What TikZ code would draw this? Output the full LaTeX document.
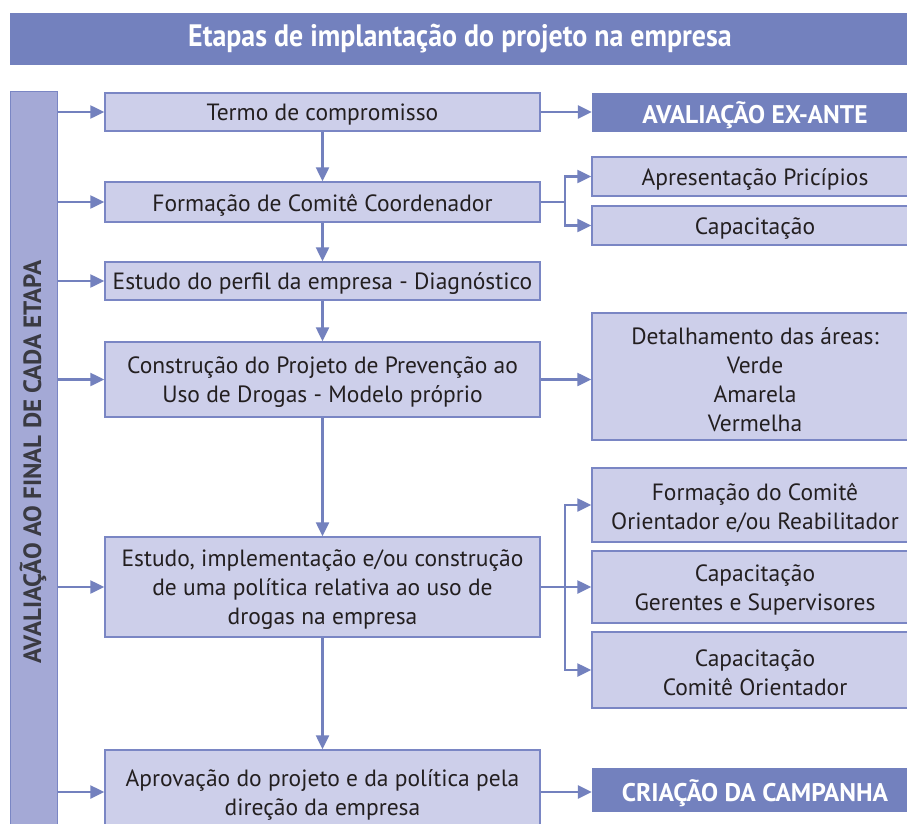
\documentclass[tikz,border=0pt]{standalone}
\usepackage{fontspec}
\setmainfont{PT Sans}
\newfontfamily\condfont{PT Sans Bold}[FakeStretch=0.9]
\usetikzlibrary{arrows.meta,positioning,calc}
\definecolor{darkbar}{RGB}{115,129,190}
\definecolor{sidebar}{RGB}{164,169,214}
\definecolor{boxfill}{RGB}{205,207,234}
\definecolor{boxline}{RGB}{122,134,196}
\definecolor{txt}{RGB}{35,31,32}
\definecolor{sidetxt}{RGB}{58,58,66}
\tikzset{
  stepbox/.style={draw=boxline, line width=1.5pt, fill=boxfill, inner sep=0pt},
  steptext/.style={inner sep=0pt, align=center, text=txt, font=\fontsize{23.5}{29}\selectfont},
  darkbox/.style={fill=darkbar, inner sep=0pt},
  darktext/.style={inner sep=0pt, align=center, text=white, font=\fontsize{25.5}{29}\bfseries\selectfont},
  arr/.style={draw=darkbar, line width=2.5pt, -{Triangle[length=14pt,width=13pt]}},
}
\newcommand{\boxat}[7]{% name, x1, y1, x2, y2, box style, text style ; then text
  \node[#6, minimum width={#4-#2}, minimum height={#5-#3}] (#1) at ({(#2+#4)/2},{(#3+#5)/2}) {};
  \node[#7, yshift=-3pt] (#1t) at (#1.center)}
\begin{document}
\begin{tikzpicture}[x=1pt,y=-1pt]
\useasboundingbox (0,0) rectangle (907,824);
\fill[white] (0,0) rectangle (907,824);
% title
\node[fill=darkbar, minimum width=900, minimum height=52, inner sep=0pt, text=white,
  font=\fontsize{31}{34}\condfont] (title) at (460,39) {Etapas de implantação do projeto na empresa};
% side bar
\node[fill=sidebar, draw=boxline, line width=1pt, minimum width=47, minimum height=740, inner sep=0pt] (side) at (33.5,462) {};
\node[rotate=90, text=sidetxt, font=\fontsize{25}{29}\bfseries\selectfont] (sidetext) at (33,462) {AVALIAÇÃO AO FINAL DE CADA ETAPA};
% main boxes
\boxat{b1}{105}{93}{540}{131}{stepbox}{steptext} {Termo de compromisso};
\boxat{b2}{105}{182}{540}{222}{stepbox}{steptext} {Formação de Comitê Coordenador};
\boxat{b3}{105}{262}{540}{300}{stepbox}{steptext} {Estudo do perfil da empresa - Diagnóstico};
\boxat{b4}{105}{342}{540}{417}{stepbox}{steptext} {Construção do Projeto de Prevenção ao\\Uso de Drogas - Modelo próprio};
\boxat{b5}{105}{537}{540}{637}{stepbox}{steptext} {Estudo, implementação e/ou construção\\de uma política relativa ao uso de\\drogas na empresa};
\boxat{b6}{105}{750}{540}{834}{stepbox}{steptext} {Aprovação do projeto e da política pela\\direção da empresa};
% right boxes
\boxat{r1}{592}{93}{918}{132}{darkbox}{darktext} {AVALIAÇÃO EX-ANTE};
\boxat{r2}{592}{157}{918}{196}{stepbox}{steptext} {Apresentação Pricípios};
\boxat{r3}{592}{206}{918}{245}{stepbox}{steptext} {Capacitação};
\boxat{r4}{592}{313}{918}{440}{stepbox}{steptext} {Detalhamento das áreas:\\Verde\\Amarela\\Vermelha};
\boxat{r5}{592}{468}{918}{542}{stepbox}{steptext} {Formação do Comitê\\Orientador e/ou Reabilitador};
\boxat{r6}{592}{551}{918}{623}{stepbox}{steptext} {Capacitação\\Gerentes e Supervisores};
\boxat{r7}{592}{632}{918}{708}{stepbox}{steptext} {Capacitação\\Comitê Orientador};
\boxat{r9}{592}{768}{918}{812}{darkbox}{darktext} {CRIAÇÃO DA CAMPANHA};
% side arrows
\foreach \b in {b1,b2,b3,b4,b5,b6} {
  \draw[arr] (side.east |- \b.west) -- (\b.west);
}
% vertical arrows
\draw[arr] (b1.south) -- (b2.north);
\draw[arr] (b2.south) -- (b3.north);
\draw[arr] (b3.south) -- (b4.north);
\draw[arr] (b4.south) -- (b5.north);
\draw[arr] (b5.south) -- (b6.north);
% right arrows
\draw[arr] (b1.east) -- (b1.east -| r1.west);
\draw[arr] (b4.east) -- (b4.east -| r4.west);
\draw[arr] (b6.east) -- (b6.east -| r9.west);
\draw[arr] (b2.east) -- ++(24,0) |- (r2.west);
\draw[arr] (b2.east) -- ++(24,0) |- (r3.west);
\draw[arr] (b5.east) -- ++(24,0) |- (r5.west);
\draw[arr] (b5.east) -- (b5.east -| r6.west);
\draw[arr] (b5.east) -- ++(24,0) |- (r7.west);
\end{tikzpicture}
\end{document}
